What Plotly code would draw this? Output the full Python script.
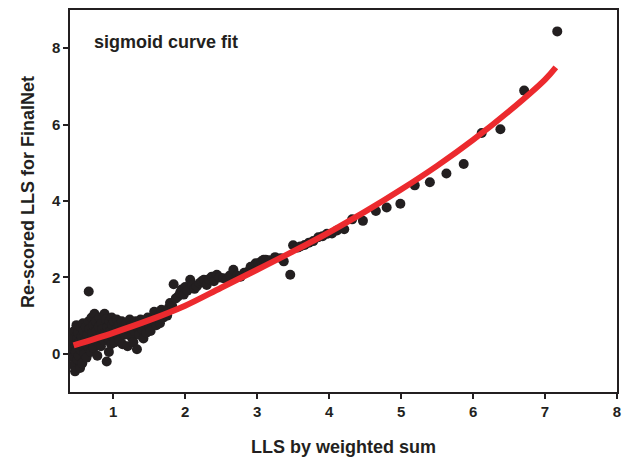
import plotly.graph_objects as go

# Scatter data: LLS by weighted sum (x) vs re-scored LLS for FinalNet (y)
pts_x = [0.42, 0.43, 0.44, 0.45, 0.45, 0.46, 0.47, 0.48, 0.48, 0.49, 0.50, 0.50, 0.51, 0.52, 0.53, 0.54,
         0.55, 0.55, 0.56, 0.57, 0.58, 0.58, 0.59, 0.60, 0.61, 0.62, 0.63, 0.64, 0.65, 0.66, 0.66, 0.67,
         0.68, 0.69, 0.70, 0.71, 0.72, 0.73, 0.74, 0.75, 0.76, 0.77, 0.78, 0.79, 0.80, 0.81, 0.82, 0.83,
         0.84, 0.85, 0.87, 0.88, 0.89, 0.90, 0.91, 0.92, 0.93, 0.94, 0.95, 0.96, 0.97, 0.98, 0.99, 1.00,
         1.01, 1.02, 1.04, 1.05, 1.06, 1.08, 1.09, 1.10, 1.12, 1.13, 1.15, 1.16, 1.18, 1.20, 1.21, 1.23,
         1.25, 1.26, 1.28, 1.29, 1.31, 1.33, 1.34, 1.36, 1.38, 1.40, 1.42, 1.44, 1.46, 1.48, 1.50, 1.52,
         1.55, 1.57, 1.60, 1.62, 1.65, 1.67, 1.70, 1.72, 1.75, 1.77, 1.79, 1.82, 1.84, 1.87, 1.90, 1.93,
         1.95, 1.98, 2.00, 2.03, 2.07, 2.10, 2.13, 2.16, 2.20, 2.23, 2.26, 2.30, 2.33, 2.37, 2.40, 2.44,
         2.48, 2.53, 2.58, 2.62, 2.67, 2.72, 2.77, 2.82, 2.87, 2.91, 2.95, 2.98, 3.02, 3.06, 3.09, 3.12,
         3.17, 3.25, 3.33, 3.37, 3.46, 3.50, 3.56, 3.60, 3.66, 3.72, 3.78, 3.85, 3.91, 3.97, 4.04, 4.11,
         4.21, 4.32, 4.47, 4.65, 4.80, 4.99, 5.19, 5.40, 5.63, 5.87, 6.12, 6.38, 6.71, 7.17]
pts_y = [0.30, 0.10, -0.10, 0.45, -0.30, 0.60, -0.46, 0.20, 0.05, 0.75, -0.15, 0.40, 0.55, -0.05, 0.30, -0.37,
         0.70, 0.10, 0.45, -0.25, 0.25, 0.80, 0.60, 0.00, 0.35, 0.70, -0.10, 0.50, 0.20, 1.63, 0.85, 0.65,
         0.30, 0.05, 0.95, 0.55, 0.75, 0.15, 1.05, 0.40, 0.85, 0.60, -0.05, 0.30, 0.70, 0.95, 0.50, 0.20,
         0.80, 0.65, 0.35, 1.05, 0.55, 0.90, -0.20, 0.70, 0.40, 0.05, 0.85, 0.60, 0.25, 0.95, 0.75, 0.45,
         0.85, 0.30, 0.65, 0.90, 0.50, 0.75, 0.35, 0.60, 0.85, 0.25, 0.70, 0.50, 0.80, 0.20, 0.65, 0.90,
         0.45, 0.75, 0.30, 0.60, 0.85, 0.12, 0.70, 0.50, 0.90, 0.65, 0.40, 0.80, 0.55, 0.95, 0.70, 0.60,
         0.85, 1.10, 0.75, 0.95, 0.80, 1.15, 0.95, 1.05, 1.00, 1.20, 1.33, 1.25, 1.82, 1.45, 1.50, 1.60,
         1.68, 1.55, 1.75, 1.65, 1.94, 1.80, 1.70, 1.76, 1.85, 1.90, 1.94, 1.80, 1.95, 2.02, 1.90, 2.07,
         2.00, 1.98, 1.95, 2.05, 2.20, 2.05, 2.02, 2.12, 2.15, 2.28, 2.30, 2.37, 2.37, 2.42, 2.46, 2.46,
         2.45, 2.53, 2.50, 2.42, 2.07, 2.84, 2.78, 2.81, 2.85, 2.91, 2.95, 3.05, 3.08, 3.14, 3.15, 3.23,
         3.26, 3.52, 3.48, 3.74, 3.83, 3.93, 4.41, 4.49, 4.72, 4.97, 5.78, 5.88, 6.89, 8.44]

# Fitted curve
fit_x = [0.45, 1.0, 1.5, 2.0, 2.5, 3.0, 3.5, 4.0, 4.5, 5.0, 5.5, 6.0, 6.5, 7.0, 7.15]
fit_y = [0.22, 0.55, 0.88, 1.26, 1.73, 2.20, 2.68, 3.18, 3.72, 4.30, 4.92, 5.60, 6.35, 7.18, 7.50]

x_ticks = [1, 2, 3, 4, 5, 6, 7, 8]
y_ticks = [0, 2, 4, 6, 8]

fig = go.Figure()
fig.add_trace(go.Scatter(x=pts_x, y=pts_y, mode="markers",
                         marker=dict(size=10, color="#231f20", line=dict(width=0)),
                         showlegend=False, hoverinfo="skip"))
fig.add_trace(go.Scatter(x=fit_x, y=fit_y, mode="lines",
                         line=dict(color="#ec2a2e", width=6, shape="spline"),
                         showlegend=False, hoverinfo="skip"))

font_family = "Liberation Sans, Arial, sans-serif"
fig.update_layout(
    width=634, height=461,
    margin=dict(l=70, r=17, t=10, b=69),
    paper_bgcolor="white", plot_bgcolor="white",
    font=dict(family=font_family, color="#231f20"),
    xaxis=dict(range=[0.4, 8], tickvals=x_ticks, showgrid=False, zeroline=False,
               showline=True, linecolor="#231f20", linewidth=1.5, mirror=True,
               ticks="outside", ticklen=5, tickwidth=1.5, tickcolor="#231f20",
               tickfont=dict(size=15, family=font_family, weight="bold"), automargin=False),
    yaxis=dict(range=[-1, 9], tickvals=y_ticks, showgrid=False, zeroline=False,
               showline=True, linecolor="#231f20", linewidth=1.5, mirror=True,
               ticks="outside", ticklen=5, tickwidth=1.5, tickcolor="#231f20",
               tickfont=dict(size=15, family=font_family, weight="bold"), automargin=False),
    annotations=[
        dict(text="<b>sigmoid curve fit</b>", x=0.04, y=0.916, xref="paper", yref="paper",
             xanchor="left", yanchor="middle", showarrow=False,
             font=dict(size=18, family=font_family, color="#231f20")),
        dict(text="<b>LLS by weighted sum</b>", x=0.5, y=-0.144, xref="paper", yref="paper",
             xanchor="center", yanchor="middle", showarrow=False,
             font=dict(size=18, family=font_family, color="#231f20")),
        dict(text="<b>Re-scored LLS for FinalNet</b>", x=-0.0768, y=0.5236, xref="paper", yref="paper",
             xanchor="center", yanchor="middle", showarrow=False, textangle=-90,
             font=dict(size=18, family=font_family, color="#231f20")),
    ],
)

fig.write_html("out.html")
